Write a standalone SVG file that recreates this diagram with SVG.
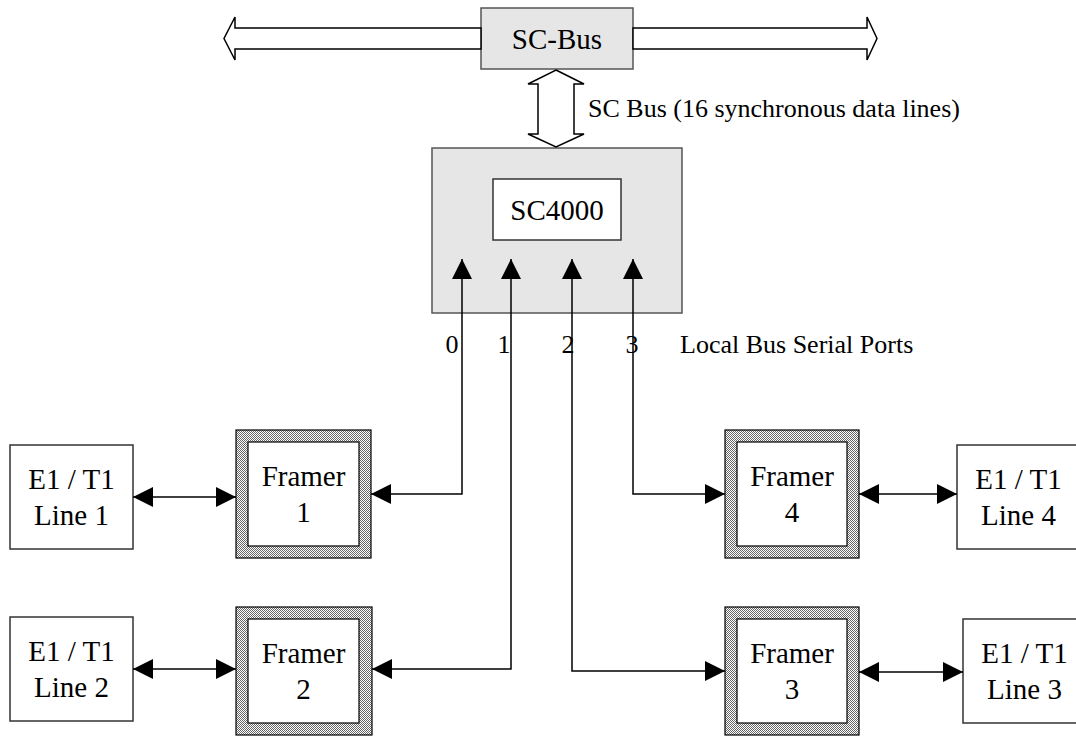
<svg xmlns="http://www.w3.org/2000/svg" width="1076" height="736" viewBox="0 0 1076 736">
<defs>
<pattern id="stip" width="2" height="2" patternUnits="userSpaceOnUse">
<rect width="2" height="2" fill="#ffffff"/>
<rect x="0" y="0" width="1" height="1" fill="#666"/>
<rect x="1" y="1" width="1" height="1" fill="#666"/>
</pattern>
<marker id="ah" viewBox="0 0 20 20" refX="20" refY="10" markerWidth="20" markerHeight="20" markerUnits="userSpaceOnUse" orient="auto-start-reverse">
<path d="M0,0 L20,10 L0,20 Z" fill="#000"/>
</marker>
<style>
text{font-family:"Liberation Serif","Times New Roman",serif;fill:#000;text-anchor:middle}
.t28{font-size:29px}
.t26{font-size:26px}
.grey{fill:#e6e6e6;stroke:#555;stroke-width:1.5}
.box{fill:#fff;stroke:#333;stroke-width:1.5}
.frame{fill:url(#stip);stroke:#000;stroke-width:1.2}
.inner{fill:#fff;stroke:#000;stroke-width:1.2}
.wide{fill:#fff;stroke:#000;stroke-width:1.5;stroke-linejoin:miter}
.conn{fill:none;stroke:#000;stroke-width:1.5}
</style>
</defs>

<g id="scbus">
<rect class="grey" x="481" y="8" width="152" height="61"/>
<text class="t28" x="557" y="49">SC-Bus</text>
</g>

<g id="sc4000">
<rect class="grey" x="432" y="148" width="250" height="165"/>
<rect class="box" x="493" y="179" width="128" height="61"/>
<text class="t28" x="557" y="220">SC4000</text>
</g>

<g id="labels">
<text class="t26" x="588" y="117" style="text-anchor:start">SC Bus (16 synchronous data lines)</text>
<text class="t26" x="452" y="353">0</text>
<text class="t26" x="504" y="353">1</text>
<text class="t26" x="568" y="353">2</text>
<text class="t26" x="632" y="353">3</text>
<text class="t26" x="680" y="353" style="text-anchor:start">Local Bus Serial Ports</text>
</g>

<g id="line1">
<rect class="box" x="10" y="445" width="123" height="104"/>
<text class="t28" x="71.5" y="489">E1 / T1</text>
<text class="t28" x="71.5" y="525">Line 1</text>
</g>
<g id="line2">
<rect class="box" x="10" y="617" width="123" height="104"/>
<text class="t28" x="71.5" y="661">E1 / T1</text>
<text class="t28" x="71.5" y="697">Line 2</text>
</g>
<g id="line4">
<rect class="box" x="957" y="445" width="123" height="104"/>
<text class="t28" x="1018.5" y="489">E1 / T1</text>
<text class="t28" x="1018.5" y="525">Line 4</text>
</g>
<g id="line3">
<rect class="box" x="963" y="619" width="123" height="104"/>
<text class="t28" x="1024.5" y="663">E1 / T1</text>
<text class="t28" x="1024.5" y="699">Line 3</text>
</g>

<g id="framer1">
<rect class="frame" x="236" y="430" width="135" height="128"/>
<rect class="inner" x="248" y="442" width="111" height="104"/>
<text class="t28" x="303.5" y="486">Framer</text>
<text class="t28" x="303.5" y="522">1</text>
</g>
<g id="framer2">
<rect class="frame" x="236" y="607" width="136" height="128"/>
<rect class="inner" x="248" y="619" width="111" height="104"/>
<text class="t28" x="303.5" y="663">Framer</text>
<text class="t28" x="303.5" y="699">2</text>
</g>
<g id="framer4">
<rect class="frame" x="725" y="430" width="134" height="128"/>
<rect class="inner" x="737" y="442" width="110" height="104"/>
<text class="t28" x="792" y="486">Framer</text>
<text class="t28" x="792" y="522">4</text>
</g>
<g id="framer3">
<rect class="frame" x="725" y="607" width="134" height="128"/>
<rect class="inner" x="737" y="619" width="110" height="104"/>
<text class="t28" x="792" y="663">Framer</text>
<text class="t28" x="792" y="699">3</text>
</g>

<g id="connectors">
<polygon class="wide" points="481,28 235,28 235,17 224,38.5 235,60 235,49 481,49"/>
<polygon class="wide" points="633,28 867,28 867,17 877,38.5 867,60 867,49 633,49"/>
<polygon class="wide" points="556,70 584,84 574,84 574,134 584,134 556,147 528,134 538,134 538,84 528,84"/>
<polyline class="conn" points="462,259 462,494 371,494" marker-start="url(#ah)" marker-end="url(#ah)"/>
<polyline class="conn" points="511,259 511,669 372,669" marker-start="url(#ah)" marker-end="url(#ah)"/>
<polyline class="conn" points="572,259 572,671 725,671" marker-start="url(#ah)" marker-end="url(#ah)"/>
<polyline class="conn" points="633,259 633,494 725,494" marker-start="url(#ah)" marker-end="url(#ah)"/>
<line class="conn" x1="133" y1="497" x2="236" y2="497" marker-start="url(#ah)" marker-end="url(#ah)"/>
<line class="conn" x1="133" y1="669" x2="236" y2="669" marker-start="url(#ah)" marker-end="url(#ah)"/>
<line class="conn" x1="859" y1="494" x2="957" y2="494" marker-start="url(#ah)" marker-end="url(#ah)"/>
<line class="conn" x1="859" y1="672" x2="963" y2="672" marker-start="url(#ah)" marker-end="url(#ah)"/>
</g>
</svg>
